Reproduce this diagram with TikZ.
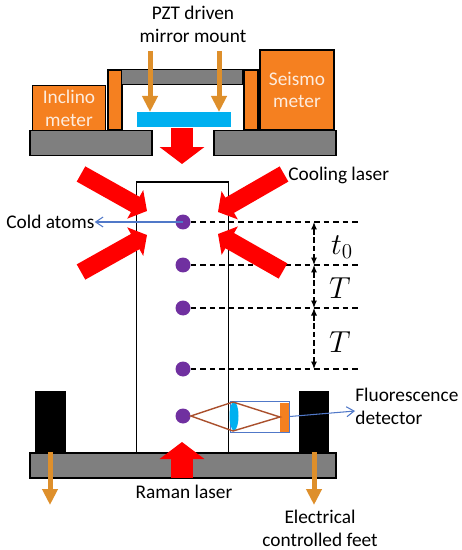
\documentclass[tikz,border=0pt]{standalone}
\usepackage{fontspec}
\setmainfont{Carlito}
\usepackage{amsmath}
\usetikzlibrary{positioning,calc,arrows.meta,shapes.geometric}
\definecolor{PlateGray}{RGB}{127,127,127}
\definecolor{MountOrange}{RGB}{245,128,32}
\definecolor{ForceOrange}{RGB}{222,143,43}
\definecolor{MirrorBlue}{RGB}{0,176,240}
\definecolor{AtomPurple}{RGB}{112,48,160}
\definecolor{RayBrown}{RGB}{170,80,45}
\definecolor{LinkBlue}{RGB}{80,120,200}

\begin{document}
\begin{tikzpicture}[
    x=0.02cm,
    y=-0.02cm,
    font=\fontsize{11pt}{13pt}\selectfont,
    plate/.style={
        draw=black,
        thick,
        inner sep=0pt,
        minimum height=0.49cm,
        fill=PlateGray
    },
    post/.style={
        draw=black,
        thick,
        inner sep=0pt,
        minimum width=0.28cm,
        minimum height=1.2cm,
        fill=MountOrange
    },
    meterbox/.style={
        draw=black,
        thick,
        inner sep=0pt,
        align=center,
        text=white!85!MountOrange,
        fill=MountOrange
    },
    foot/.style={
        inner sep=0pt,
        minimum width=0.61cm,
        minimum height=1.22cm,
        fill=black
    },
    atom/.style={
        circle,
        inner sep=0pt,
        minimum size=0.3cm,
        fill=AtomPurple
    },
    label/.style={
        inner sep=0pt,
        align=center
    },
    timelabel/.style={
        inner sep=0pt,
        font=\fontsize{17pt}{20pt}\selectfont
    },
    laser/.style={
        -{Triangle[length=0.34cm,width=0.88cm]},
        line width=0.45cm,
        draw=red
    },
    coolbeam/.style={
        -{Triangle[length=0.27cm,width=0.64cm]},
        line width=0.35cm,
        draw=red
    },
    force/.style={
        -{Triangle[length=0.32cm,width=0.3cm]},
        line width=0.1cm,
        draw=ForceOrange
    },
    level/.style={
        dash pattern=on 3.2pt off 2.2pt,
        line width=0.6pt,
        draw=black
    },
    timespan/.style={
        {Latex[length=1.5mm,width=1.2mm]}-{Latex[length=1.5mm,width=1.2mm]},
        dash pattern=on 3.2pt off 1.6pt,
        semithick,
        draw=black
    },
    ray/.style={
        draw=RayBrown,
        thick
    },
    link/.style={
        -{Straight Barb[length=1.5mm,width=2mm]},
        draw=LinkBlue,
        semithick
    }
]
\useasboundingbox (0,0) rectangle (461,550);

% =========================
% top: mirror mount
% =========================
\node[plate, minimum width=2.44cm] (plateleft) at (91,143) {};
\node[plate, minimum width=2.44cm] (plateright) at (275,143) {};

\node[post] (postleft) at (115,100) {};
\node[post] (postright) at (251,100) {};
\node[plate, minimum width=2.42cm, minimum height=0.3cm] (bar) at (182,77) {};

\node[meterbox, minimum width=1.46cm, minimum height=0.9cm] (inclino) at (69,108) {Inclino\\meter};
\node[meterbox, minimum width=1.48cm, minimum height=1.6cm] (seismo) at (297,90) {Seismo\\meter};

\node[inner sep=0pt, minimum width=1.88cm, minimum height=0.3cm, fill=MirrorBlue] (mirror) at (184,120) {};

\coordinate (pzttopleft) at (150,51);
\coordinate (pzttopright) at (219,51);
\coordinate (pztendleft) at (150,112);
\coordinate (pztendright) at (219,112);
\draw[force] (pzttopleft) -- (pztendleft);
\draw[force] (pzttopright) -- (pztendright);

\node[label] (pzt) at (193,24.5) {PZT driven\\mirror mount};

% =========================
% middle: tube, atoms and lasers
% =========================
\node[draw=black, semithick, inner sep=0pt, minimum width=1.83cm, minimum height=5.42cm] (tube) at (182.5,317.5) {};

\node[atom] (atomA) at (183,222) {};
\node[atom] (atomB) at (183,265) {};
\node[atom] (atomC) at (183,308) {};
\node[atom] (atomD) at (183,369) {};
\node[atom] (atomE) at (183,416) {};

\coordinate (levelA) at (361,222);
\coordinate (levelB) at (361,265);
\coordinate (levelC) at (361,308);
\coordinate (levelD) at (361,369);
\draw[level] (atomA) -- (levelA);
\draw[level] (atomB) -- (levelB);
\draw[level] (atomC) -- (levelC);
\draw[level] (atomD) -- (levelD);

\coordinate (spanA) at (314,222);
\coordinate (spanB) at (314,265);
\coordinate (spanC) at (314,308);
\coordinate (spanD) at (314,369);
\draw[timespan] (spanA) -- (spanB);
\draw[timespan] (spanB) -- (spanC);
\draw[timespan] (spanC) -- (spanD);

\node[timelabel] (tzero) at (342,247) {$t_0$};
\node[timelabel] (tfirst) at (340,288) {$T$};
\node[timelabel] (tsecond) at (340,342) {$T$};

\coordinate (coolA) at (81,174);
\coordinate (coolAend) at (147,211);
\coordinate (coolB) at (284,174);
\coordinate (coolBend) at (218,212);
\coordinate (coolC) at (81,272);
\coordinate (coolCend) at (147,235);
\coordinate (coolD) at (283,271);
\coordinate (coolDend) at (218,234);
\draw[coolbeam] (coolA) -- (coolAend);
\draw[coolbeam] (coolB) -- (coolBend);
\draw[coolbeam] (coolC) -- (coolCend);
\draw[coolbeam] (coolD) -- (coolDend);

\coordinate (ramantop) at (182,128);
\coordinate (ramanend) at (182,164);
\draw[laser] (ramantop) -- (ramanend);

\node[label, anchor=west] (cooling) at (288,175) {Cooling laser};
\node[label, anchor=west] (cold) at (6,222) {Cold atoms};
\draw[link] (atomA.center) -- (cold.east);

% =========================
% bottom: detector and base
% =========================
\node[plate, minimum width=6.12cm, minimum height=0.5cm] (base) at (183,465.5) {};
\node[foot] (footleft) at (50.5,421.5) {};
\node[foot] (footright) at (314,421.5) {};

\coordinate (ramanbottom) at (182,478);
\coordinate (ramanup) at (182,442);
\draw[laser] (ramanbottom) -- (ramanup);

\node[draw=LinkBlue, thin, inner sep=0pt, minimum width=1.18cm, minimum height=0.62cm] (housing) at (260,416.5) {};
\node[inner sep=0pt, minimum width=0.17cm, minimum height=0.58cm, fill=MountOrange] (sensor) at (284.5,417) {};
\node[ellipse, inner sep=0pt, minimum width=0.18cm, minimum height=0.58cm, fill=MirrorBlue] (lens) at (234,416) {};

\coordinate (lenstop) at (233,402);
\coordinate (lensbottom) at (233,431);
\draw[ray] (atomE.east) -- (lenstop) -- (sensor.west) -- (lensbottom) -- cycle;

\node[label, anchor=west, align=left] (fluo) at (355,406.5) {Fluorescence\\detector};
\coordinate (fluoend) at (355,411);
\draw[link] (housing.east) -- (fluoend);

\coordinate (feetleft) at (50,452);
\coordinate (feetleftend) at (50,505);
\coordinate (feetright) at (314,452);
\coordinate (feetrightend) at (314,505);
\draw[force] (feetleft) -- (feetleftend);
\draw[force] (feetright) -- (feetrightend);

\node[label] (raman) at (184,492) {Raman laser};
\node[label] (feetlabel) at (320,528.5) {Electrical\\controlled feet};

\end{tikzpicture}
\end{document}
